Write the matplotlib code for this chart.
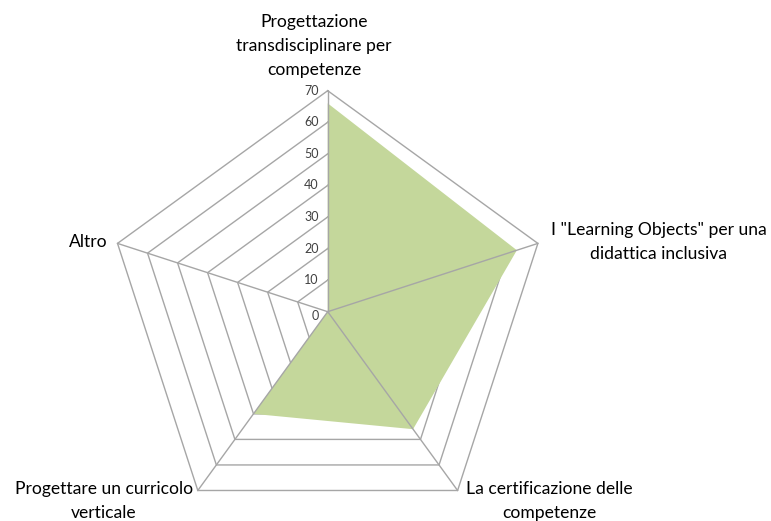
import numpy as np
import matplotlib.pyplot as plt

plt.rcParams['font.family'] = ['Lato', 'DejaVu Sans']

categories = ['Progettazione\ntransdisciplinare per\ncompetenze',
              'I "Learning Objects" per una\ndidattica inclusiva',
              'La certificazione delle\ncompetenze',
              'Progettare un curricolo\nverticale',
              'Altro']
values = [66, 63, 46, 40, 0]
ticks = [0, 10, 20, 30, 40, 50, 60, 70]
vmax = 70

grid_col = '#a6a6a6'
fill_col = '#c4d79b'

n = len(categories)
ang = np.pi / 2 - np.arange(n) * 2 * np.pi / n

def xy(r):
    r = np.asarray(r, dtype=float)
    return r * np.cos(ang), r * np.sin(ang)

# pixel mapping: center (327.7, 311.7), 70 units -> 221 px
s = 221 / vmax
W, H = 771, 521
cx, cy = 327.7, 311.7

fig = plt.figure(figsize=(W / 100, H / 100), dpi=100)
ax = fig.add_axes([0, 0, 1, 1])
ax.set_xlim(-cx / s, (W - cx) / s)
ax.set_ylim(-(H - cy) / s, cy / s)
ax.axis('off')

# rings
for t in ticks[1:]:
    x, y = xy([t] * n)
    ax.plot(np.append(x, x[0]), np.append(y, y[0]), color=grid_col, lw=1, zorder=1)

# data
x, y = xy(values)
ax.fill(x, y, color=fill_col, lw=0, zorder=2)

# spokes
for i in range(n):
    ax.plot([0, vmax * np.cos(ang[i])], [0, vmax * np.sin(ang[i])],
            color=grid_col, lw=1, zorder=3)

# tick labels
for t in ticks:
    ax.text(-9 / s, t - (1.5 if t == 0 else 0), str(t), ha='right', va='center',
            fontsize=9, color='#404040')

# category labels (pixel positions)
def px(xp, yp):
    return (xp - cx) / s, (cy - yp) / s

lab_pos = [(314, 46, 'center', 'center'),
           (659, 242, 'center', 'center'),
           (549, 501, 'center', 'center'),
           (104, 501, 'center', 'center'),
           (108, 242, 'right', 'center')]
for lab, (xp, yp, ha, va) in zip(categories, lab_pos):
    lx, ly = px(xp, yp)
    ax.text(lx, ly, lab, ha=ha, va=va, fontsize=12.6, color='#000000',
            linespacing=1.65, multialignment='center')

fig.savefig('out.png', dpi=100)
